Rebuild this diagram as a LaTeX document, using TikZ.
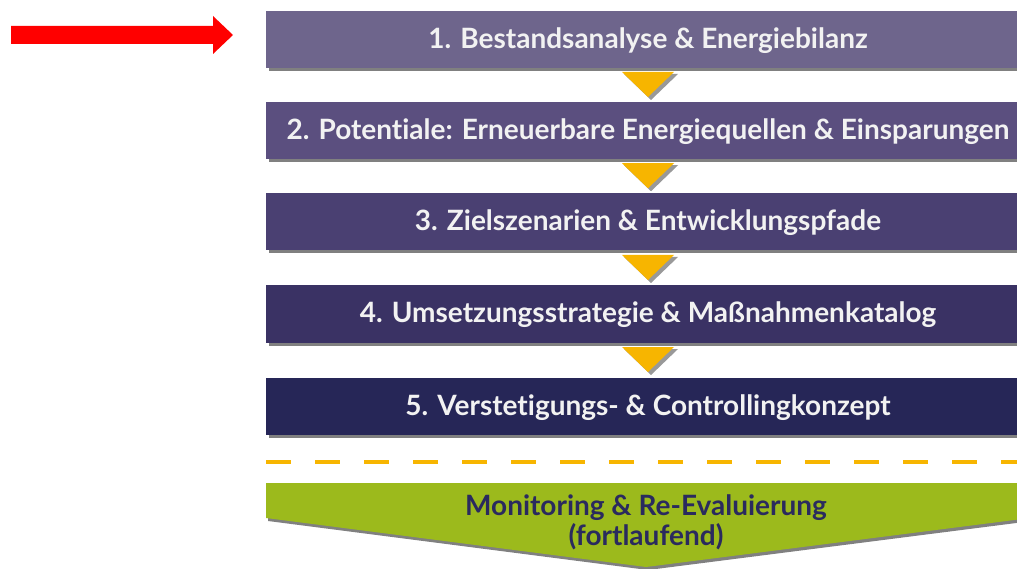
\documentclass[tikz,border=0pt]{standalone}
\usepackage{fontspec}
\setmainfont{Lato}[Ligatures=NoCommon]
\usetikzlibrary{calc}
\definecolor{stepA}{HTML}{6E658C}
\definecolor{stepB}{HTML}{5B4F7F}
\definecolor{stepC}{HTML}{4A4072}
\definecolor{stepD}{HTML}{3A3264}
\definecolor{stepE}{HTML}{262657}
\definecolor{arrowgold}{HTML}{F7B500}
\definecolor{monigreen}{HTML}{9CBA1C}
\definecolor{moninavy}{HTML}{2A2A5E}
\definecolor{shadowgray}{HTML}{555555}
\definecolor{steptext}{HTML}{F2F2F2}
\tikzset{
  stepbox/.style={fill=#1, text=steptext, minimum width=764pt, minimum height=57pt,
    inner sep=0pt, text height=23pt, text depth=5pt, font=\fontsize{28}{32}\selectfont\bfseries},
  dropshadow/.style={fill=shadowgray, opacity=0.75},
  goldtri/.style={fill=arrowgold},
}
\begin{document}
\begin{tikzpicture}[x=1pt,y=-1pt]
  \useasboundingbox (0,0) rectangle (1017,569);
  \clip (0,0) rectangle (1017,569);

  % process steps
  \foreach \n/\y/\c/\t in {
      b1/39.5/stepA/{1. Bestandsanalyse \& Energiebilanz},
      b2/130.5/stepB/{2. Potentiale: Erneuerbare Energiequellen \& Einsparungen},
      b3/222/stepC/{3. Zielszenarien \& Entwicklungspfade},
      b4/314/stepD/{4. Umsetzungsstrategie \& Maßnahmenkatalog},
      b5/406/stepE/{5. Verstetigungs- \& Controllingkonzept}} {
    \fill[dropshadow] (269,\y+28.5) rectangle (1040,\y+31.5);
    \node[stepbox=\c] (\n) at (648,\y) {\t};
  }

  % gold chevrons between consecutive steps
  \foreach \a/\b in {b1/b2, b2/b3, b3/b4, b4/b5} {
    \coordinate (m) at ($(\a.south)!0.5!(\b.north)$);
    \fill[shadowgray, opacity=0.6] ($(m)+(-24,-11)$) -- ($(m)+(30,-11)$) -- ($(m)+(3,15)$) -- cycle;
    \fill[goldtri] ($(m)+(-26,-13)$) -- ($(m)+(26,-13)$) -- ($(m)+(0,12)$) -- cycle;
  }

  % separator
  \coordinate (sepL) at (266,462);
  \coordinate (sepR) at (1030,462);
  \draw[arrowgold, line width=4pt, dash pattern=on 25pt off 24pt] (sepL) -- (sepR);

  % monitoring pentagon
  \fill[shadowgray, opacity=0.75] (268,486) -- (1032,486) -- (1032,521) -- (648,570) -- (268,521) -- cycle;
  \fill[monigreen] (266,483) -- (1030,483) -- (1030,518) -- (646,567) -- (266,518) -- cycle;
  \node[text=moninavy, font=\fontsize{28}{30}\selectfont\bfseries, align=center] (mon) at (646,522)
    {Monitoring \& Re-Evaluierung\\(fortlaufend)};

  % red pointer at the first step
  \fill[red] (11,26) -- (213,26) -- (213,16) -- (233,35) -- (213,54) -- (213,44) -- (11,44) -- cycle;
  \coordinate (ptr) at (233,35);
\end{tikzpicture}
\end{document}
